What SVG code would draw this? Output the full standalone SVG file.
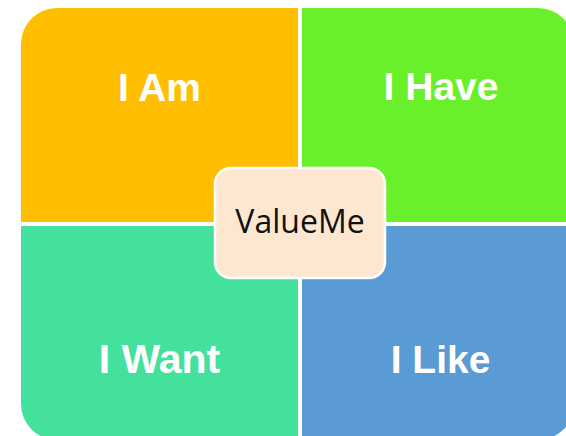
<svg xmlns="http://www.w3.org/2000/svg" width="566" height="436" viewBox="0 0 566 436">
<style>
.q{font-family:"Liberation Sans",Arial,sans-serif;font-weight:bold;font-size:39px;fill:#ffffff;text-anchor:middle}
.c{font-family:"Open Sans","Liberation Sans",sans-serif;font-size:32px;fill:#111111;text-anchor:middle}
.div{stroke:#ffffff;stroke-width:4}
</style>
<defs>
<clipPath id="outer"><rect x="21" y="8" width="553" height="432" rx="36" ry="36"/></clipPath>
</defs>
<rect width="566" height="436" fill="#ffffff"/>
<g clip-path="url(#outer)">
<g id="i-am"><rect x="21" y="8" width="279" height="216" fill="#FFBF00"/><text class="q" x="159.5" y="101">I Am</text></g>
<g id="i-have"><rect x="300" y="8" width="274" height="216" fill="#6AF02A"/><text class="q" x="441" y="100">I Have</text></g>
<g id="i-want"><rect x="21" y="224" width="279" height="216" fill="#44E19C"/><text class="q" x="159.5" y="373" style="font-size:41px">I Want</text></g>
<g id="i-like"><rect x="300" y="224" width="274" height="216" fill="#5A9AD5"/><text class="q" x="440.5" y="373">I Like</text></g>
<g id="dividers"><line class="div" x1="300" y1="0" x2="300" y2="440"/><line class="div" x1="0" y1="224" x2="580" y2="224"/></g>
</g>
<g id="valueme"><rect x="215" y="168" width="170" height="110" rx="16" ry="16" fill="#FDE7D0" stroke="#ffffff" stroke-width="2.5"/><text class="c" x="300" y="233">ValueMe</text></g>
</svg>
